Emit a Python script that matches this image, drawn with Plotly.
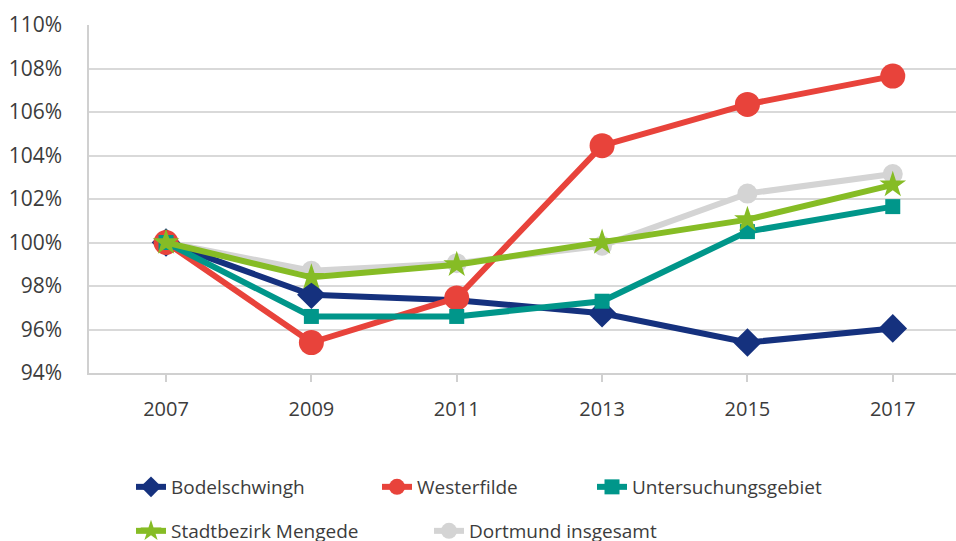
import plotly.graph_objects as go

years = [2007, 2009, 2011, 2013, 2015, 2017]
year_labels = ["2007", "2009", "2011", "2013", "2015", "2017"]

bodelschwingh = [100.0, 97.6, 97.35, 96.75, 95.4, 96.05]
westerfilde = [100.0, 95.4, 97.45, 104.45, 106.35, 107.65]
untersuchungsgebiet = [100.0, 96.6, 96.6, 97.3, 100.5, 101.65]
mengede = [100.0, 98.4, 98.98, 100.0, 101.05, 102.65]
dortmund = [100.0, 98.7, 99.05, 99.85, 102.25, 103.15]

y_ticks = [94, 96, 98, 100, 102, 104, 106, 108, 110]
y_tick_labels = [f"{v}%" for v in y_ticks]

W, H = 956, 541
FONT = "Open Sans"
TXT = "#3c3c3c"

series = [
    ("Dortmund insgesamt", dortmund, "#d4d4d4", "circle", 20, "legend5"),
    ("Bodelschwingh", bodelschwingh, "#15317e", "diamond", 22, "legend"),
    ("Westerfilde", westerfilde, "#e8433b", "circle", 25, "legend2"),
    ("Untersuchungsgebiet", untersuchungsgebiet, "#00968a", "square", 15, "legend3"),
    ("Stadtbezirk Mengede", mengede, "#86bc25", "star", 20, "legend4"),
]

fig = go.Figure()
for name, vals, color, sym, size, leg in series:
    fig.add_trace(go.Scatter(
        x=years, y=vals, name=name, mode="lines+markers",
        line=dict(color=color, width=6),
        marker=dict(symbol=sym, size=size, color=color, line=dict(width=0)),
        legend=leg, showlegend=True,
    ))

legend_pos = {
    "legend": (172, 487),
    "legend2": (418, 487),
    "legend3": (633, 487),
    "legend4": (172, 531),
    "legend5": (470, 531),
}
leg_layout = {}
for key, (tx, ry) in legend_pos.items():
    leg_layout[key] = dict(
        x=(tx - 41) / W, y=1 - ry / H, xref="container", yref="container",
        xanchor="left", yanchor="middle", orientation="h",
        font=dict(family=FONT, size=19, color=TXT),
        bgcolor="rgba(0,0,0,0)", itemsizing="trace",
    )

fig.update_layout(
    width=W, height=H,
    margin=dict(l=89, r=0, t=25, b=168, autoexpand=False),
    paper_bgcolor="white", plot_bgcolor="white",
    font=dict(family=FONT, size=20, color=TXT),
    xaxis=dict(
        range=[2005.94, 2017.87], tickvals=years, ticktext=year_labels,
        showgrid=False, zeroline=False, showline=True, linecolor="#d0d0d0", linewidth=1.5,
        ticks="outside", ticklen=7, tickcolor="#d0d0d0", tickwidth=1.5,
        tickfont=dict(family=FONT, size=20, color=TXT), ticklabelstandoff=10,
        automargin=False,
    ),
    yaxis=dict(
        range=[94, 110], tickvals=y_ticks, ticktext=y_tick_labels,
        showgrid=True, gridcolor="#d9d9d9", gridwidth=1.5, zeroline=False,
        showline=True, linecolor="#d0d0d0", linewidth=1.5,
        tickfont=dict(family=FONT, size=21, color=TXT), ticklabelstandoff=21,
        automargin=False,
    ),
    **leg_layout,
)

fig.write_html(
    "out.html",
    config={"displayModeBar": False},
    post_script="document.body.style.margin='0';",
)
